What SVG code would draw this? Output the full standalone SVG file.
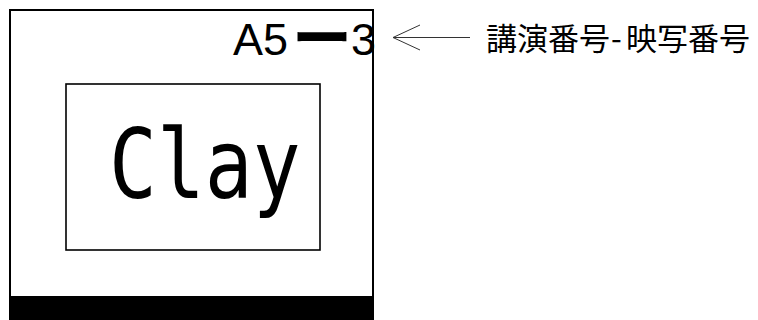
<svg xmlns="http://www.w3.org/2000/svg" width="758" height="320" viewBox="0 0 758 320">
<style>
.frame{fill:#fff;stroke:#000;stroke-width:2}
.inner{fill:#fff;stroke:#000;stroke-width:1.6}
.lbl{font-family:"Liberation Sans",Arial,sans-serif;fill:#000}
.cjk{font-family:"Noto Sans CJK JP","Noto Sans CJK SC",sans-serif;fill:#000}
.arrow{fill:none;stroke:#333;stroke-width:1}
</style>
<rect width="758" height="320" fill="#fff"/>
<g id="slide">
<rect class="frame" x="10" y="10" width="363" height="320"/>
<rect x="9" y="296" width="365" height="24" fill="#000"/>
<text class="lbl" x="233" y="55" font-size="45">A5<tspan x="292" y="60" font-weight="bold" font-family="Noto Sans CJK JP, sans-serif" font-size="60">ー</tspan><tspan x="351" y="55">3</tspan></text>
</g>
<g id="title">
<rect class="inner" x="66" y="84" width="254" height="166"/>
<text transform="translate(109,198) scale(0.82,1)" font-family="DejaVu Sans Mono, monospace" font-size="97" fill="#000">Clay</text>
</g>
<g id="connectors">
<path class="arrow" d="M470 37.5H393M420 25L393 37.5L420 50"/>
</g>
<g id="note">
<text class="cjk" y="50" font-size="31"><tspan x="486">講演番号</tspan><tspan x="611">-</tspan><tspan x="626">映写番号</tspan></text>
</g>
</svg>
